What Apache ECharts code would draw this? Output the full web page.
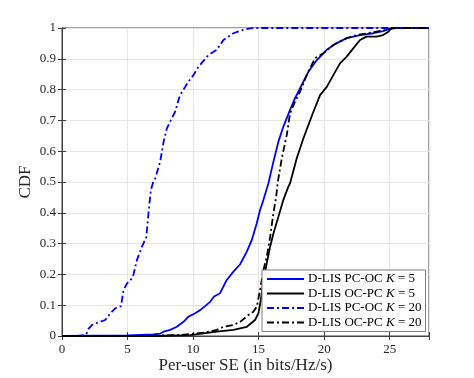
<!DOCTYPE html>
<html>
<head>
<meta charset="utf-8">
<script src="https://cdn.jsdelivr.net/npm/echarts@6/dist/echarts.min.js"></script>
<style>
  html, body { margin: 0; padding: 0; background: #fff; }
  #chart { width: 474px; height: 378px; }
</style>
</head>
<body>
<div id="chart"></div>
<script>
const FONT = "Liberation Serif";
const BLUE = "#0000ff";
const BLACK = "#000000";
const DASH_DOT = [7, 3, 2, 3];

const seriesNames = [
  "D-LIS PC-OC K = 5",
  "D-LIS OC-PC K = 5",
  "D-LIS PC-OC K = 20",
  "D-LIS OC-PC K = 20",
];

// [SE, CDF] points
const pcOcK5 = [
  [0, 0], [5, 0.002], [7.0, 0.005], [7.5, 0.008], [7.75, 0.014], [8.25, 0.02],
  [8.76, 0.03], [9.27, 0.046], [9.65, 0.063], [10.16, 0.074], [10.54, 0.084],
  [10.92, 0.097], [11.3, 0.111], [11.6, 0.128], [12.06, 0.139], [12.57, 0.182],
  [13.08, 0.209], [13.59, 0.233], [14.1, 0.274], [14.48, 0.312], [14.86, 0.366],
  [15.11, 0.409], [15.37, 0.442], [15.75, 0.496], [16.13, 0.566], [16.51, 0.631],
  [16.89, 0.68], [17.4, 0.734], [17.78, 0.772], [18.29, 0.815], [18.8, 0.858],
  [19.44, 0.896], [20.2, 0.929], [20.96, 0.951], [21.72, 0.967], [22.74, 0.977],
  [23.75, 0.983], [24.5, 0.99], [25.0, 0.997], [25.5, 1], [28, 1],
];
const ocPcK5 = [
  [0, 0], [7, 0], [9.78, 0.003], [11.81, 0.014], [13.08, 0.02], [14.1, 0.03],
  [14.73, 0.052], [14.99, 0.074], [15.17, 0.117], [15.37, 0.182], [15.62, 0.236],
  [15.88, 0.29], [16.13, 0.333], [16.51, 0.387], [16.89, 0.442], [17.27, 0.485],
  [17.4, 0.496], [17.91, 0.577], [18.42, 0.642], [18.8, 0.685], [19.18, 0.728],
  [19.69, 0.782], [20.2, 0.809], [20.7, 0.847], [21.21, 0.885], [21.72, 0.907],
  [22.22, 0.934], [22.74, 0.961], [23.23, 0.972], [24.0, 0.972], [24.5, 0.977],
  [24.9, 0.988], [25.15, 1], [28, 1],
];
const pcOcK20 = [
  [0, 0], [1.2, 0], [1.3, 0.003], [1.8, 0.003], [1.9, 0.01], [2.0, 0.022],
  [2.3, 0.036], [2.9, 0.046], [3.3, 0.052], [3.7, 0.074], [4.06, 0.09],
  [4.5, 0.097], [4.7, 0.15], [4.95, 0.17], [5.4, 0.19], [5.72, 0.247],
  [6.1, 0.29], [6.43, 0.32], [6.6, 0.4], [6.78, 0.474], [6.93, 0.496],
  [7.1, 0.51], [7.49, 0.566], [7.75, 0.63], [8.0, 0.674], [8.25, 0.696],
  [8.63, 0.728], [9.0, 0.782], [9.65, 0.826], [10.03, 0.847], [10.4, 0.874],
  [11.17, 0.912], [11.81, 0.929], [12.32, 0.961], [13.08, 0.983], [13.6, 0.991],
  [14.35, 0.999], [15, 1], [28, 1],
];
const ocPcK20 = [
  [0, 0], [6, 0], [9, 0.003], [9.78, 0.006], [11.0, 0.012], [11.81, 0.02],
  [12.32, 0.03], [13.08, 0.036], [13.59, 0.046], [14.22, 0.068], [14.6, 0.079],
  [14.86, 0.095], [15.11, 0.149], [15.37, 0.214], [15.62, 0.257], [15.88, 0.322],
  [16.13, 0.398], [16.34, 0.452], [16.45, 0.496], [16.77, 0.577], [17.15, 0.653],
  [17.4, 0.723], [17.78, 0.761], [18.16, 0.793], [18.67, 0.847], [18.92, 0.869],
  [19.31, 0.902], [19.94, 0.918], [20.7, 0.945], [21.72, 0.967], [22.48, 0.977],
  [23.75, 0.986], [24.77, 0.994], [25.28, 1], [28, 1],
];

const xTicks = [0, 5, 10, 15, 20, 25];
const yTicks = [0, 0.1, 0.2, 0.3, 0.4, 0.5, 0.6, 0.7, 0.8, 0.9, 1];

const AXIS_COLOR = "#404040";
const TEXT_COLOR = "#262626";
const NONE = "rgba(0,0,0,0)";

function lineSeries(name, data, color, dashed) {
  return {
    name,
    type: "line",
    data,
    symbol: "none",
    showSymbol: false,
    lineStyle: { color, width: 1.8, type: dashed ? DASH_DOT : "solid" },
    itemStyle: { color },
    animation: false,
  };
}

const chart = echarts.init(document.getElementById("chart"), null, { renderer: "canvas" });

const xBase = {
  type: "value",
  min: 0,
  max: 28,
  interval: 5,
  axisLine: { lineStyle: { color: AXIS_COLOR, width: 1 } },
  axisTick: { inside: true, length: 4, lineStyle: { color: AXIS_COLOR } },
};
const yBase = {
  type: "value",
  min: 0,
  max: 1,
  interval: 0.1,
  axisLine: { lineStyle: { color: AXIS_COLOR, width: 1 } },
  axisTick: { inside: true, length: 4, lineStyle: { color: AXIS_COLOR } },
};

chart.setOption({
  backgroundColor: "#ffffff",
  animation: false,
  grid: {
    left: 62, right: 45, top: 28, bottom: 42,
    outerBoundsMode: "none",
    show: true, borderColor: AXIS_COLOR, borderWidth: 1,
  },
  xAxis: [
    {
      ...xBase,
      position: "bottom",
      name: "Per-user SE (in bits/Hz/s)",
      nameLocation: "middle",
      nameGap: 21,
      nameMoveOverlap: false,
      nameTextStyle: { fontFamily: FONT, fontSize: 17, color: TEXT_COLOR },
      axisLabel: {
        fontFamily: FONT, fontSize: 13, color: TEXT_COLOR, margin: 7,
        formatter: (v) => (xTicks.includes(v) ? String(v) : ""),
      },
      splitLine: { show: true, lineStyle: { color: "#e6e6e6", width: 1 } },
    },
    {
      ...xBase,
      position: "top",
      axisLabel: { show: false },
      splitLine: { show: false },
    },
  ],
  yAxis: [
    {
      ...yBase,
      position: "left",
      name: "CDF",
      nameLocation: "middle",
      nameGap: 28,
      nameMoveOverlap: false,
      nameTextStyle: { fontFamily: FONT, fontSize: 17, color: TEXT_COLOR },
      axisLabel: {
        fontFamily: FONT, fontSize: 13, color: TEXT_COLOR, margin: 6,
        formatter: (v) => {
          const t = yTicks.find((k) => Math.abs(k - v) < 1e-6);
          return t === undefined ? "" : String(t);
        },
      },
      splitLine: { show: true, lineStyle: { color: "#e6e6e6", width: 1 } },
    },
    {
      ...yBase,
      position: "right",
      axisLabel: { show: false },
      splitLine: { show: false },
    },
  ],
  legend: {
    orient: "vertical",
    left: 262,
    top: 270,
    backgroundColor: "#ffffff",
    borderColor: "#7f7f7f",
    borderWidth: 1,
    borderRadius: 0,
    padding: [2, 4, 2, 4],
    itemWidth: 37,
    itemHeight: 10,
    itemGap: 0.5,
    itemStyle: { color: NONE, borderColor: NONE, borderWidth: 0 },
    data: seriesNames,
    formatter: (name) => name.replace(" K ", " {k|K} "),
    textStyle: {
      fontFamily: FONT,
      fontSize: 13,
      color: "#000000",
      lineHeight: 14,
      padding: [0, 0, 0, -1],
      rich: { k: { fontFamily: FONT, fontSize: 13, fontStyle: "italic", lineHeight: 14 } },
    },
  },
  series: [
    lineSeries(seriesNames[0], pcOcK5, BLUE, false),
    lineSeries(seriesNames[1], ocPcK5, BLACK, false),
    lineSeries(seriesNames[2], pcOcK20, BLUE, true),
    lineSeries(seriesNames[3], ocPcK20, BLACK, true),
  ],
});
</script>
</body>
</html>
